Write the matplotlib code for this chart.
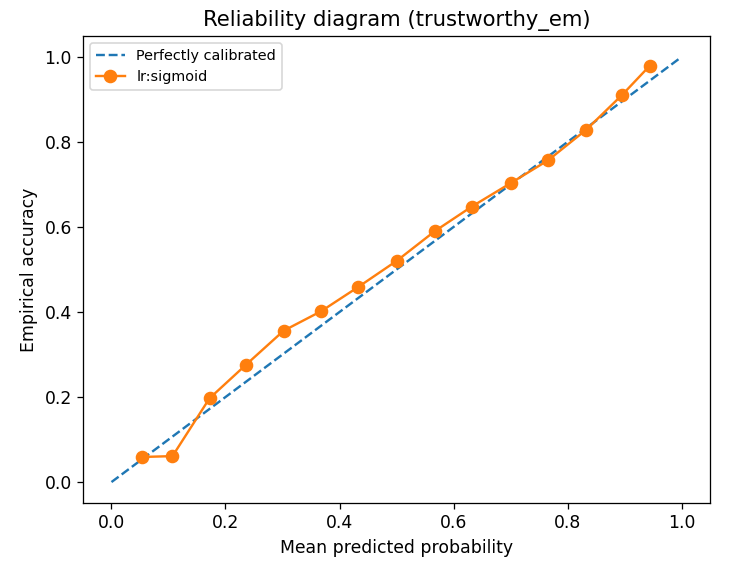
import numpy as np
import matplotlib
matplotlib.use("Agg")
import matplotlib.pyplot as plt

# mean predicted probability per bin
mean_pred = [0.054, 0.107, 0.172, 0.236, 0.302, 0.368, 0.433, 0.501,
             0.567, 0.632, 0.700, 0.766, 0.833, 0.896, 0.944]
# empirical accuracy per bin
emp_acc = [0.059, 0.061, 0.197, 0.276, 0.356, 0.402, 0.459, 0.521,
           0.590, 0.648, 0.703, 0.757, 0.829, 0.911, 0.979]

model_name = "lr:sigmoid"
dataset = "trustworthy_em"

if __name__ == "__main__":
    dpi = 115
    plt.rcParams["font.size"] = 10.8
    fig = plt.figure(figsize=(737 / dpi, 565 / dpi), dpi=dpi)
    ax = fig.add_axes([0.1126, 0.1092, 0.9634 - 0.1126, 0.9368 - 0.1092])

    ax.plot([0, 1], [0, 1], "--", label="Perfectly calibrated")
    ax.plot(mean_pred, emp_acc, "o-", markersize=7.5, label=model_name)

    ax.set_xlabel("Mean predicted probability")
    ax.set_ylabel("Empirical accuracy")
    ax.set_title("Reliability diagram (%s)" % dataset, fontsize=13.2)
    ax.legend(loc="upper left", fontsize="small")

    fig.savefig("out.png", dpi=dpi)
    plt.close(fig)
